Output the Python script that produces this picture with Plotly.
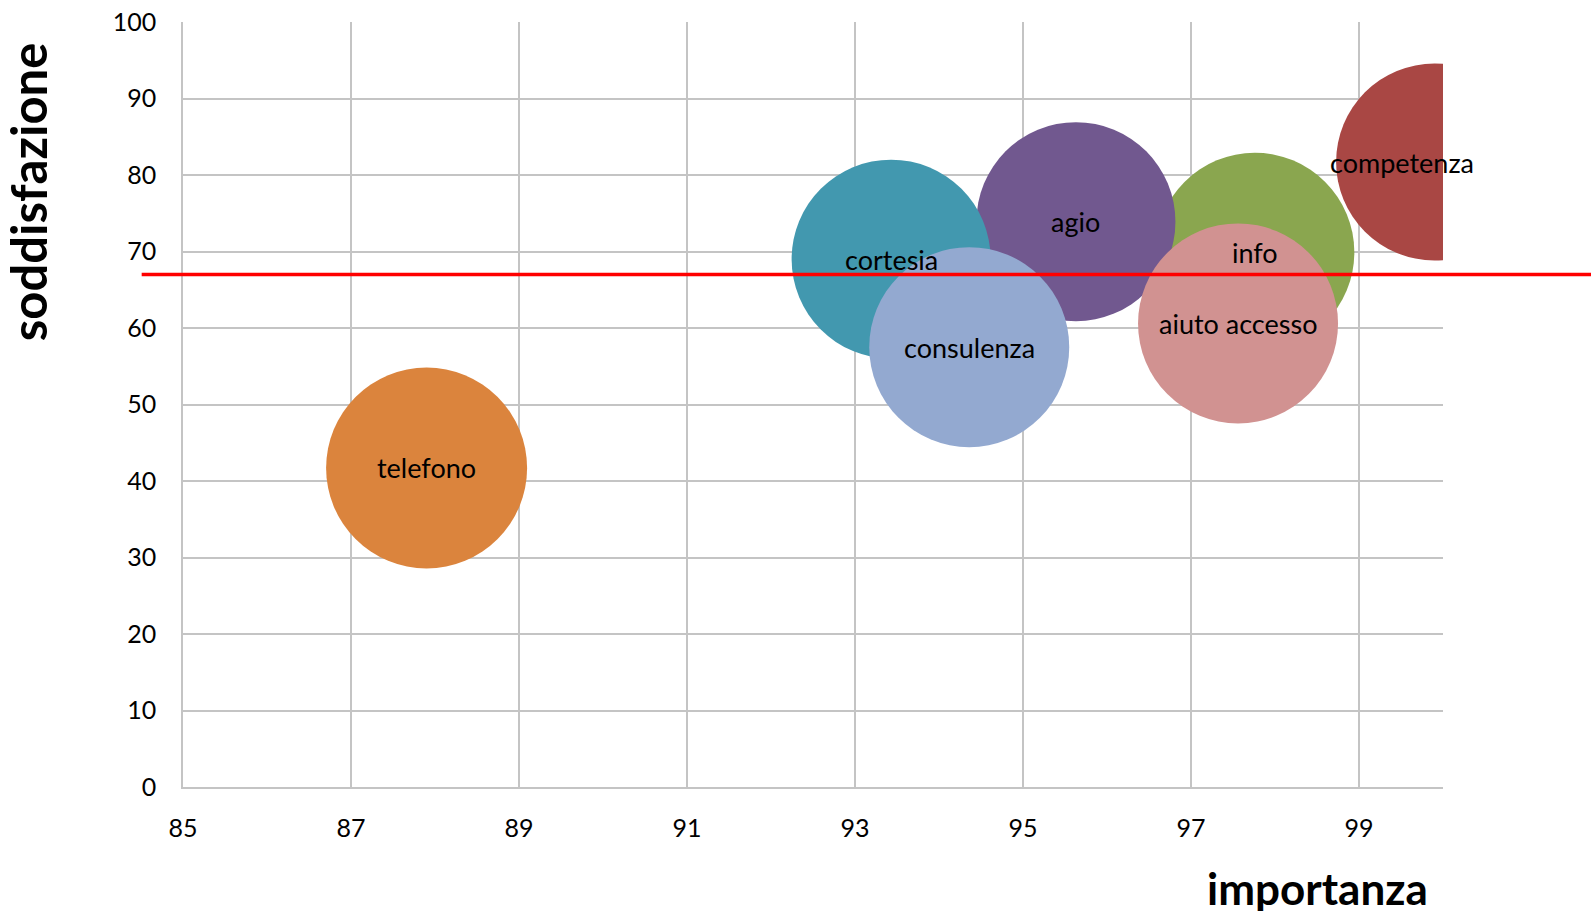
import plotly.graph_objects as go

# Servizi valutati: importanza (x), soddisfazione (y), dimensione bolla
servizi = ["competenza", "info", "agio", "cortesia", "telefono", "consulenza", "aiuto accesso"]
importanza = [99.9, 97.76, 95.63, 93.43, 87.9, 94.36, 97.56]
soddisfazione = [81.7, 69.9, 73.9, 69.0, 41.7, 57.5, 60.6]
dimensione = [197, 199, 199, 199, 201, 200, 200]
colori = ["#A94744", "#8AA64F", "#71588F", "#4298AF", "#DB843D", "#93A9D0", "#D19291"]

soglia = 67  # linea di riferimento della soddisfazione

x_ticks = [85, 87, 89, 91, 93, 95, 97, 99]
y_ticks = list(range(0, 101, 10))

FONT = "Lato, 'Open Sans', sans-serif"

fig = go.Figure()

for nome, xv, yv, d, c in zip(servizi, importanza, soddisfazione, dimensione, colori):
    fig.add_trace(go.Scatter(
        x=[xv], y=[yv], mode="markers", name=nome,
        marker=dict(size=d, sizemode="diameter", color=c, opacity=1, line=dict(width=0)),
        cliponaxis=True, hoverinfo="text", hovertext=nome,
    ))

# etichette dei punti, centrate sulle bolle
spost_x = {"competenza": -33}
for nome, xv, yv in zip(servizi, importanza, soddisfazione):
    fig.add_annotation(
        x=xv, y=yv, xref="x", yref="y", text=nome, showarrow=False,
        xanchor="center", yanchor="middle",
        xshift=spost_x.get(nome, 0), yshift=0,
        font=dict(family=FONT, size=27, color="#000000"),
    )

# linea rossa di riferimento
fig.add_shape(
    type="line", xref="paper", yref="y",
    x0=-0.0328, x1=1.12, y0=soglia, y1=soglia,
    line=dict(color="#FF0000", width=3.5), layer="above",
)

# titoli degli assi
fig.add_annotation(
    text="<b>soddisfazione</b>", xref="paper", yref="paper",
    x=-0.1235, y=0.778, xanchor="center", yanchor="middle",
    textangle=-90, showarrow=False,
    font=dict(family=FONT, size=49, color="#000000"),
)
fig.add_annotation(
    text="<b>importanza</b>", xref="paper", yref="paper",
    x=0.9, y=-0.095, xanchor="center", yanchor="top", showarrow=False,
    font=dict(family=FONT, size=44, color="#000000"),
)

grid = "#C4C4C4"
fig.update_layout(
    width=1591, height=911,
    margin=dict(l=183, r=148, t=22, b=124, autoexpand=False),
    paper_bgcolor="white", plot_bgcolor="white",
    showlegend=False,
    font=dict(family=FONT, size=25, color="#000000"),
    xaxis=dict(
        range=[85, 100], tickvals=x_ticks, ticktext=[str(v) for v in x_ticks],
        showgrid=True, gridcolor=grid, gridwidth=1.5,
        showline=True, linecolor=grid, linewidth=1.5,
        zeroline=False, ticks="", ticklabelstandoff=18, automargin=False,
        tickfont=dict(family=FONT, size=25, color="#000000"),
    ),
    yaxis=dict(
        range=[0, 100], tickvals=y_ticks, ticktext=[str(v) for v in y_ticks],
        showgrid=True, gridcolor=grid, gridwidth=1.5,
        showline=True, linecolor=grid, linewidth=1.5,
        zeroline=False, ticks="", ticklabelstandoff=20, automargin=False,
        tickfont=dict(family=FONT, size=25, color="#000000"),
    ),
)

fig.write_html("out.html")
